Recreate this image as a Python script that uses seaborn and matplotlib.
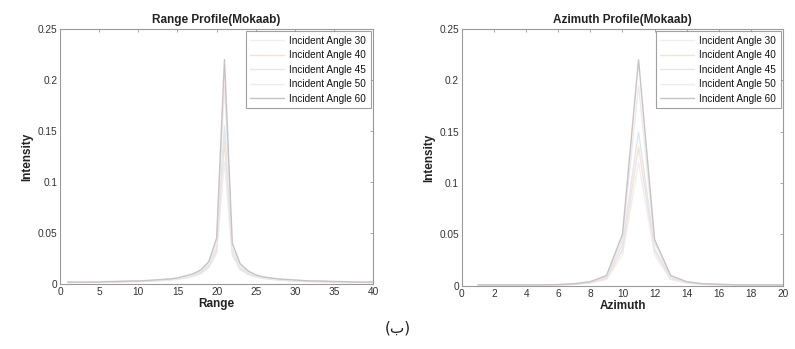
import numpy as np
import pandas as pd
import matplotlib
matplotlib.use('Agg')
import matplotlib.pyplot as plt
import seaborn as sns

# ------------------------------------------
# Data
# ------------------------------------------
angles = ['Incident Angle 30', 'Incident Angle 40', 'Incident Angle 45',
          'Incident Angle 50', 'Incident Angle 60']
line_colors = ['#efefef', '#f6e2d2', '#dfe7f4', '#ececec', '#c9c2c2']

range_x = list(range(1, 41))
range_60 = [0.002, 0.002, 0.002, 0.002, 0.002, 0.0025, 0.0025, 0.0028, 0.003, 0.003,
            0.0035, 0.004, 0.0045, 0.005, 0.006, 0.008, 0.010, 0.014, 0.022, 0.045,
            0.220, 0.040, 0.020, 0.013, 0.009, 0.007, 0.006, 0.005, 0.0045, 0.004,
            0.0035, 0.003, 0.003, 0.0028, 0.0025, 0.0025, 0.002, 0.002, 0.002, 0.002]
range_50 = [0.002, 0.002, 0.002, 0.002, 0.002, 0.0022, 0.0024, 0.0026, 0.0028, 0.003,
            0.0033, 0.0037, 0.0042, 0.0048, 0.0056, 0.007, 0.009, 0.013, 0.020, 0.040,
            0.195, 0.036, 0.018, 0.012, 0.0085, 0.0065, 0.0055, 0.0048, 0.0042, 0.0037,
            0.0033, 0.003, 0.0028, 0.0026, 0.0024, 0.0022, 0.002, 0.002, 0.002, 0.002]
range_45 = [0.0018, 0.0018, 0.0018, 0.0018, 0.0019, 0.002, 0.0022, 0.0024, 0.0026, 0.0028,
            0.003, 0.0034, 0.0038, 0.0044, 0.0052, 0.0065, 0.0085, 0.012, 0.018, 0.035,
            0.155, 0.032, 0.016, 0.011, 0.008, 0.006, 0.005, 0.0044, 0.0038, 0.0034,
            0.003, 0.0028, 0.0026, 0.0024, 0.0022, 0.002, 0.0019, 0.0018, 0.0018, 0.0018]
range_40 = [0.0017, 0.0017, 0.0017, 0.0017, 0.0018, 0.0019, 0.002, 0.0022, 0.0024, 0.0026,
            0.0028, 0.0032, 0.0036, 0.0042, 0.005, 0.006, 0.008, 0.011, 0.017, 0.032,
            0.140, 0.030, 0.015, 0.010, 0.0075, 0.0058, 0.0048, 0.0042, 0.0036, 0.0032,
            0.0028, 0.0026, 0.0024, 0.0022, 0.002, 0.0019, 0.0018, 0.0017, 0.0017, 0.0017]
range_30 = [0.0015, 0.0015, 0.0015, 0.0015, 0.0016, 0.0017, 0.0018, 0.002, 0.0022, 0.0024,
            0.0026, 0.003, 0.0034, 0.004, 0.0048, 0.006, 0.0075, 0.010, 0.016, 0.030,
            0.120, 0.028, 0.014, 0.0095, 0.007, 0.0055, 0.0045, 0.004, 0.0034, 0.003,
            0.0026, 0.0024, 0.0022, 0.002, 0.0018, 0.0017, 0.0016, 0.0015, 0.0015, 0.0015]

azimuth_x = list(range(1, 21))
azimuth_60 = [0.001, 0.001, 0.001, 0.001, 0.001, 0.0012, 0.002, 0.004, 0.010, 0.050,
              0.220, 0.045, 0.010, 0.004, 0.002, 0.0015, 0.001, 0.001, 0.001, 0.001]
azimuth_50 = [0.001, 0.001, 0.001, 0.001, 0.001, 0.0012, 0.002, 0.004, 0.009, 0.045,
              0.195, 0.042, 0.009, 0.0035, 0.002, 0.0014, 0.001, 0.001, 0.001, 0.001]
azimuth_45 = [0.0008, 0.0008, 0.0008, 0.0009, 0.001, 0.0011, 0.0018, 0.0035, 0.008, 0.040,
              0.150, 0.036, 0.008, 0.003, 0.0018, 0.0012, 0.0009, 0.0008, 0.0008, 0.0008]
azimuth_40 = [0.0008, 0.0008, 0.0008, 0.0008, 0.0009, 0.001, 0.0016, 0.003, 0.007, 0.035,
              0.135, 0.034, 0.007, 0.003, 0.0016, 0.0011, 0.0009, 0.0008, 0.0008, 0.0008]
azimuth_30 = [0.0007, 0.0007, 0.0007, 0.0007, 0.0008, 0.0009, 0.0014, 0.0028, 0.006, 0.030,
              0.120, 0.030, 0.006, 0.0028, 0.0014, 0.001, 0.0008, 0.0007, 0.0007, 0.0007]

range_series = [range_30, range_40, range_45, range_50, range_60]
azimuth_series = [azimuth_30, azimuth_40, azimuth_45, azimuth_50, azimuth_60]

range_df = pd.concat([pd.DataFrame({'x': range_x, 'y': s, 'angle': a})
                      for s, a in zip(range_series, angles)])
azimuth_df = pd.concat([pd.DataFrame({'x': azimuth_x, 'y': s, 'angle': a})
                        for s, a in zip(azimuth_series, angles)])

# ------------------------------------------
# Figure
# ------------------------------------------
sns.set_style('white')
plt.rcParams['font.family'] = ['Liberation Sans', 'DejaVu Sans']

fig = plt.figure(figsize=(7.95, 3.49), dpi=100)
ax1 = fig.add_axes([0.0755, 0.186, 0.394, 0.731])
ax2 = fig.add_axes([0.581, 0.181, 0.404, 0.736])

palette = dict(zip(angles, line_colors))
panels = [(ax1, range_df, 'Range Profile(Mokaab)', 'Range', 40, np.arange(0, 41, 5)),
          (ax2, azimuth_df, 'Azimuth Profile(Mokaab)', 'Azimuth', 20, np.arange(0, 21, 2))]

for ax, df, title, xlabel, xmax, xticks in panels:
    sns.lineplot(data=df, x='x', y='y', hue='angle', palette=palette,
                 linewidth=1.0, ax=ax)
    ax.set_xlim(0, xmax)
    ax.set_ylim(0, 0.25)
    ax.set_xticks(xticks)
    ax.set_yticks([0, 0.05, 0.1, 0.15, 0.2, 0.25])
    ax.set_yticklabels(['0', '0.05', '0.1', '0.15', '0.2', '0.25'])
    ax.set_title(title, fontsize=8.5, fontweight='bold', pad=4, color='#222222')
    ax.set_xlabel(xlabel, fontsize=8.5, fontweight='bold', labelpad=1, color='#222222')
    ax.set_ylabel('Intensity', fontsize=8.5, fontweight='bold', labelpad=3, color='#222222')
    ax.tick_params(direction='in', length=2.5, width=0.6, colors='#999999',
                   labelcolor='#333333', labelsize=7.3, top=True, right=True, pad=2)
    for sp in ax.spines.values():
        sp.set_color('#9a9a9a')
        sp.set_linewidth(0.8)
    leg = ax.legend(loc='upper right', fontsize=7.2, frameon=True, fancybox=False,
                    handlelength=3.4, borderpad=0.45, labelspacing=0.45,
                    borderaxespad=0.25, handletextpad=0.5)
    leg.get_frame().set_edgecolor('#888888')
    leg.get_frame().set_linewidth(0.8)
    for text in leg.get_texts():
        text.set_color('#111111')
    for line in leg.get_lines():
        line.set_linewidth(1.0)

fig.text(0.5, 0.06, '(ب)', ha='center', va='center', fontsize=11,
         family=['DejaVu Sans'], color='#222222')

plt.savefig('out.png', dpi=100)
